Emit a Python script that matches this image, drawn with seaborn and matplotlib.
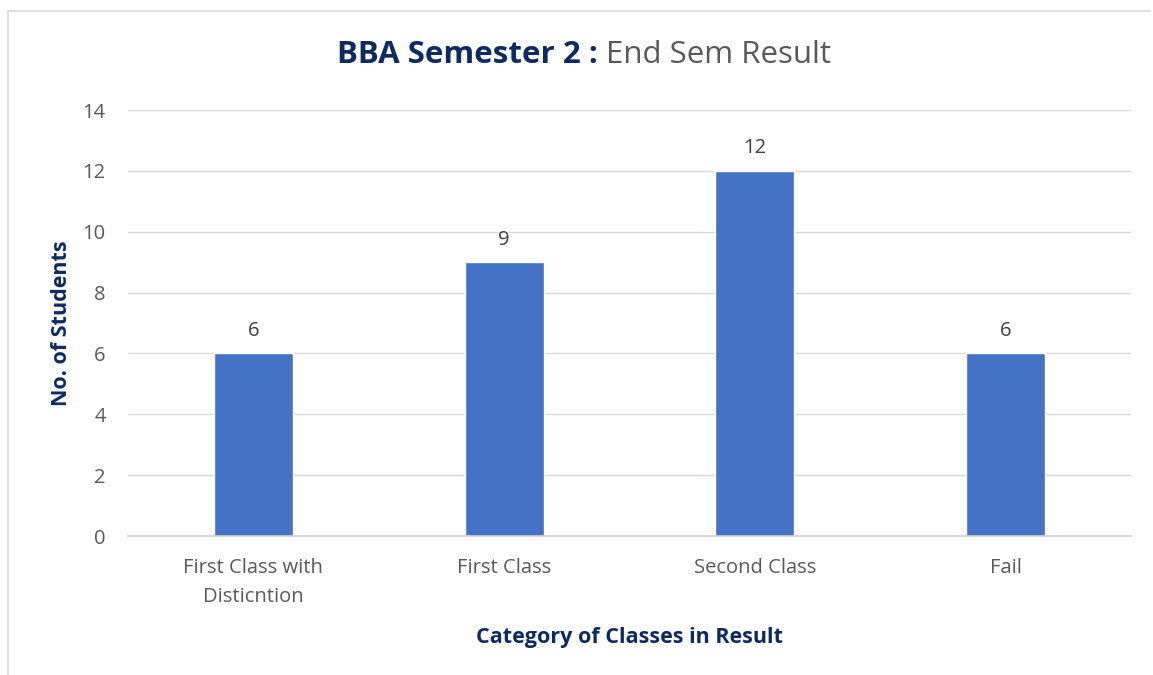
import matplotlib
matplotlib.use("Agg")
import matplotlib.pyplot as plt
import seaborn as sns
import pandas as pd

categories = ["First Class with\nDisticntion", "First Class", "Second Class", "Fail"]
students = [6, 9, 12, 6]
y_ticks = [0, 2, 4, 6, 8, 10, 12, 14]

sns.set_theme(style="white")
plt.rcParams['font.family'] = ['Open Sans', 'DejaVu Sans']

navy = "#0F2A5E"
gray = "#595959"
bar_color = "#4472C4"

fig = plt.figure(figsize=(11.53, 6.75), dpi=100)
ax = fig.add_axes([128/1153, 1-536/675, (1131-128)/1153, (536-110)/675])

df = pd.DataFrame({"cat": categories, "n": students})
sns.barplot(data=df, x="cat", y="n", color=bar_color, width=0.315, ax=ax, saturation=1)

ax.set_ylim(0, 14)
ax.set_xlim(-0.5, 3.5)
ax.set_yticks(y_ticks)
ax.yaxis.grid(True, color="#D9D9D9", linewidth=1)
ax.set_axisbelow(True)
for s in ["top", "right", "left"]:
    ax.spines[s].set_visible(False)
ax.spines["bottom"].set_color("#D0D0D0")
ax.spines["bottom"].set_linewidth(1.2)
ax.tick_params(axis="both", length=0, labelsize=14.5, labelcolor=gray)
ax.tick_params(axis="y", pad=16)
ax.tick_params(axis="x", pad=16)
for lbl in ax.get_xticklabels():
    lbl.set_linespacing(1.6)

for c in ax.containers:
    ax.bar_label(c, labels=[str(v) for v in students], padding=9, fontsize=14.5, color="#404040")

ax.set_xlabel("Category of Classes in Result", fontsize=15.5, fontweight="bold", color=navy, labelpad=14)
ax.set_ylabel("No. of Students", fontsize=15.5, fontweight="bold", color=navy, labelpad=8)

# title in two parts
fig.canvas.draw()
r = fig.canvas.get_renderer()
t1 = fig.text(0, 1-55/675, "BBA Semester 2 : ", fontsize=22.5, fontweight="bold", color=navy, va="center", ha="left")
t2 = fig.text(0, 1-55/675, "End Sem Result", fontsize=22.5, color=gray, va="center", ha="left")
w1 = t1.get_window_extent(r).width
w2 = t2.get_window_extent(r).width
x0 = (584 - (w1 + w2)/2)
t1.set_x(x0/1153)
t2.set_x((x0 + w1)/1153)

# frame lines (left and top)
fig.add_artist(plt.Line2D([8/1153, 8/1153], [0, 1-11/675], color="#D9D9D9", lw=1.2, transform=fig.transFigure))
fig.add_artist(plt.Line2D([8/1153, 1150/1153], [1-11/675, 1-11/675], color="#D9D9D9", lw=1.2, transform=fig.transFigure))

fig.savefig("out.png", dpi=100)
